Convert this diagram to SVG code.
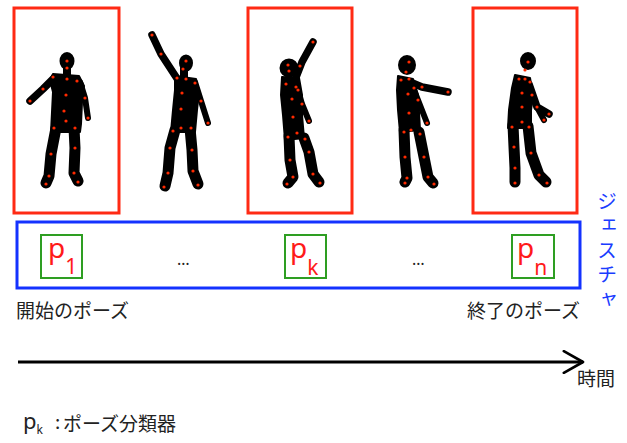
<svg xmlns="http://www.w3.org/2000/svg" width="627" height="443" viewBox="0 0 627 443">
  <defs>
    <marker id="chevron" viewBox="0 0 10 10" refX="9" refY="5" markerWidth="8" markerHeight="8" markerUnits="strokeWidth" orient="auto">
      <path d="M1,0.5 L9,5 L1,9.5" fill="none" stroke="#000" stroke-width="1.1" stroke-linecap="round" stroke-linejoin="round"/>
    </marker>
  </defs>
  <style>
    .frame { fill: none; stroke: #ff2a14; stroke-width: 3; }
    .gesture { fill: none; stroke: #1432ff; stroke-width: 3; }
    .clf { fill: none; stroke: #2e9e22; stroke-width: 2; }
    .sil { fill: #000; stroke: #000; stroke-width: 2; stroke-linejoin: round; }
    .limb { fill: none; stroke: #000; stroke-linecap: round; stroke-linejoin: round; }
    .leg { stroke-width: 11; }
    .arm { stroke-width: 7.5; }
    .fore { stroke-width: 6; }
    .j { fill: #ff2a00; }
    .p { font-family: "Noto Sans", "DejaVu Sans", sans-serif; fill: #ff1a1a; font-size: 28px; }
    .sub { font-size: 21px; }
    .jp { font-family: "Noto Sans CJK JP", "Noto Sans", sans-serif; fill: #222; font-size: 19px; }
    .vert { font-family: "Noto Sans CJK JP", sans-serif; fill: #1a3cff; font-size: 20px; writing-mode: vertical-rl; letter-spacing: 4.5px; }
    .dots { font-family: "Noto Sans", sans-serif; fill: #222; font-size: 16px; }
  </style>

  <rect width="627" height="443" fill="#fff"/>

  <!-- pose 1: start pose (framed) -->
  <g id="pose1">
    <rect class="frame" x="14" y="8" width="105" height="205"/>
    <ellipse class="sil" cx="67" cy="61" rx="6.5" ry="8"/>
    <polyline class="limb" points="67,66 67,77" stroke-width="8"/>
    <polygon class="sil" points="53,74 79,76 84,86 82,102 81,124 80,132 51,132 52,112 53,92 50,80"/>
    <polyline class="limb arm" points="54,78 43,89 30,101"/>
    <polyline class="limb fore" points="80,82 85,98 88,118"/>
    <polyline class="limb leg" points="56,128 51,154 49,176 46,183"/>
    <polyline class="limb leg" points="74,128 75,148 74,173 78,181"/>
    <g class="j">
      <circle cx="67" cy="61" r="1.6"/><circle cx="67" cy="68" r="1.6"/><circle cx="53" cy="77" r="1.6"/>
      <circle cx="67" cy="79" r="1.6"/><circle cx="77" cy="81" r="1.6"/><circle cx="43" cy="89" r="1.6"/>
      <circle cx="30" cy="101" r="1.6"/><circle cx="85" cy="98" r="1.6"/><circle cx="88" cy="118" r="1.6"/>
      <circle cx="66" cy="95" r="1.6"/><circle cx="64" cy="111" r="1.6"/><circle cx="66" cy="121" r="1.6"/>
      <circle cx="54" cy="128" r="1.6"/><circle cx="75" cy="128" r="1.6"/><circle cx="51" cy="154" r="1.6"/>
      <circle cx="49" cy="176" r="1.6"/><circle cx="46" cy="184" r="1.6"/><circle cx="74" cy="173" r="1.6"/>
      <circle cx="75" cy="148" r="1.6"/><circle cx="78" cy="182" r="1.6"/>
    </g>
  </g>

  <!-- pose 2 -->
  <g id="pose2">
    <ellipse class="sil" cx="186" cy="63" rx="6" ry="7.5"/>
    <polyline class="limb" points="184,68 184,77" stroke-width="8"/>
    <polygon class="sil" points="175,76 196,79 199,92 197,110 195,132 171,132 173,110 175,90"/>
    <polyline class="limb arm" points="178,80 161,54 152,35"/>
    <polyline class="limb fore" points="195,82 201,101 208,123"/>
    <polyline class="limb leg" points="175,130 170,148 168,173 165,186"/>
    <polyline class="limb leg" points="190,128 192,150 193,171 198,184"/>
    <g class="j">
      <circle cx="186" cy="61" r="1.6"/><circle cx="183" cy="69" r="1.6"/><circle cx="186" cy="79" r="1.6"/>
      <circle cx="177" cy="78" r="1.6"/><circle cx="195" cy="83" r="1.6"/><circle cx="161" cy="54" r="1.6"/>
      <circle cx="152" cy="35" r="1.6"/><circle cx="201" cy="101" r="1.6"/><circle cx="208" cy="123" r="1.6"/>
      <circle cx="182" cy="93" r="1.6"/><circle cx="181" cy="109" r="1.6"/><circle cx="181" cy="128" r="1.6"/>
      <circle cx="173" cy="131" r="1.6"/><circle cx="191" cy="128" r="1.6"/><circle cx="170" cy="148" r="1.6"/>
      <circle cx="168" cy="173" r="1.6"/><circle cx="164" cy="187" r="1.6"/><circle cx="192" cy="150" r="1.6"/>
      <circle cx="193" cy="171" r="1.6"/><circle cx="198" cy="185" r="1.6"/>
    </g>
  </g>

  <!-- pose 3: intermediate pose (framed) -->
  <g id="pose3">
    <rect class="frame" x="248" y="8" width="104" height="205"/>
    <ellipse class="sil" cx="289" cy="68" rx="8.5" ry="8.5"/>
    <polygon class="sil" points="282,77 299,78 302,95 302,115 304,138 285,140 283,115 281,95"/>
    <polyline class="limb arm" points="295,80 302,62 313,42"/>
    <polyline class="limb fore" points="298,90 302,104 309,121"/>
    <polyline class="limb leg" points="289,136 290,160 293,177 288,183"/>
    <polyline class="limb leg" points="304,138 309,152 313,174 319,182"/>
    <g class="j">
      <circle cx="288" cy="65" r="1.6"/><circle cx="289" cy="71" r="1.6"/><circle cx="300" cy="66" r="1.6"/>
      <circle cx="313" cy="42" r="1.6"/><circle cx="286" cy="84" r="1.6"/><circle cx="296" cy="87" r="1.6"/>
      <circle cx="298" cy="90" r="1.6"/><circle cx="302" cy="104" r="1.6"/><circle cx="309" cy="121" r="1.6"/>
      <circle cx="292" cy="99" r="1.6"/><circle cx="293" cy="117" r="1.6"/><circle cx="297" cy="133" r="1.6"/>
      <circle cx="288" cy="137" r="1.6"/><circle cx="305" cy="139" r="1.6"/><circle cx="290" cy="160" r="1.6"/>
      <circle cx="293" cy="177" r="1.6"/><circle cx="287" cy="184" r="1.6"/><circle cx="309" cy="152" r="1.6"/>
      <circle cx="313" cy="174" r="1.6"/><circle cx="320" cy="183" r="1.6"/>
    </g>
  </g>

  <!-- pose 4 -->
  <g id="pose4">
    <ellipse class="sil" cx="407" cy="65" rx="8" ry="9"/>
    <polygon class="sil" points="398,76 413,79 418,95 420,130 400,132 398,110 397,90"/>
    <polyline class="limb arm" points="410,82 422,87 448,92"/>
    <polyline class="limb fore" points="414,90 418,100 427,123"/>
    <polyline class="limb leg" points="404,130 405,157 407,178 405,182"/>
    <polyline class="limb leg" points="419,132 424,157 428,177 433,183"/>
    <g class="j">
      <circle cx="409" cy="62" r="1.6"/><circle cx="406" cy="72" r="1.6"/><circle cx="401" cy="80" r="1.6"/>
      <circle cx="409" cy="79" r="1.6"/><circle cx="414" cy="88" r="1.6"/><circle cx="422" cy="87" r="1.6"/>
      <circle cx="448" cy="92" r="1.6"/><circle cx="418" cy="100" r="1.6"/><circle cx="427" cy="123" r="1.6"/>
      <circle cx="408" cy="94" r="1.6"/><circle cx="409" cy="113" r="1.6"/><circle cx="411" cy="130" r="1.6"/>
      <circle cx="404" cy="132" r="1.6"/><circle cx="420" cy="134" r="1.6"/><circle cx="405" cy="157" r="1.6"/>
      <circle cx="407" cy="178" r="1.6"/><circle cx="405" cy="183" r="1.6"/><circle cx="424" cy="157" r="1.6"/>
      <circle cx="428" cy="177" r="1.6"/><circle cx="434" cy="184" r="1.6"/>
    </g>
  </g>

  <!-- pose 5: end pose (framed) -->
  <g id="pose5">
    <rect class="frame" x="473" y="8" width="104" height="205"/>
    <ellipse class="sil" cx="528" cy="61" rx="7" ry="8"/>
    <polygon class="sil" points="515,75 530,78 533,95 531,110 531,128 508,128 509,110 512,88"/>
    <polyline class="limb arm" points="529,84 537,107 549,114"/>
    <polyline class="limb fore" points="537,107 544,120"/>
    <polyline class="limb leg" points="513,125 514,147 515,168 515,182"/>
    <polyline class="limb leg" points="528,126 531,153 539,175 546,182"/>
    <g class="j">
      <circle cx="528" cy="62" r="1.6"/><circle cx="525" cy="70" r="1.6"/><circle cx="519" cy="79" r="1.6"/>
      <circle cx="525" cy="79" r="1.6"/><circle cx="530" cy="82" r="1.6"/><circle cx="532" cy="95" r="1.6"/>
      <circle cx="537" cy="107" r="1.6"/><circle cx="549" cy="114" r="1.6"/><circle cx="544" cy="120" r="1.6"/>
      <circle cx="522" cy="93" r="1.6"/><circle cx="522" cy="107" r="1.6"/><circle cx="522" cy="122" r="1.6"/>
      <circle cx="512" cy="127" r="1.6"/><circle cx="529" cy="127" r="1.6"/><circle cx="514" cy="147" r="1.6"/>
      <circle cx="515" cy="168" r="1.6"/><circle cx="515" cy="183" r="1.6"/><circle cx="531" cy="153" r="1.6"/>
      <circle cx="539" cy="175" r="1.6"/><circle cx="547" cy="183" r="1.6"/>
    </g>
  </g>

  <!-- gesture: sequence of pose classifiers -->
  <g id="gesture">
    <rect class="gesture" x="17" y="222" width="563" height="66"/>
    <text class="vert" x="607" y="191">ジェスチャ</text>
    <text class="dots" x="177" y="265">…</text>
    <text class="dots" x="412" y="265">…</text>
  </g>

  <g id="clf-p1">
    <rect class="clf" x="41" y="235" width="41" height="43"/>
    <text class="p" x="48" y="258">p<tspan class="sub" dy="16">1</tspan></text>
  </g>
  <g id="clf-pk">
    <rect class="clf" x="285" y="235" width="41" height="43"/>
    <text class="p" x="290" y="258">p<tspan class="sub" dy="17">k</tspan></text>
  </g>
  <g id="clf-pn">
    <rect class="clf" x="512" y="235" width="42" height="43"/>
    <text class="p" x="517" y="258">p<tspan class="sub" dy="17">n</tspan></text>
  </g>

  <g id="labels">
    <text class="jp" x="16" y="318">開始のポーズ</text>
    <text class="jp" x="467" y="318">終了のポーズ</text>
    <text class="jp" x="577" y="386" font-size="18">時間</text>
    <text class="jp" x="23" y="429"><tspan font-family="Noto Sans, sans-serif" font-size="22">p</tspan><tspan font-family="Noto Sans, sans-serif" font-size="12" dy="5">k</tspan><tspan x="55" dy="-5">:</tspan><tspan x="63" dy="2">ポーズ分類器</tspan></text>
  </g>

  <!-- time axis -->
  <g id="connectors">
    <line x1="18" y1="362" x2="583" y2="362" stroke="#000" stroke-width="3" marker-end="url(#chevron)"/>
  </g>
</svg>
